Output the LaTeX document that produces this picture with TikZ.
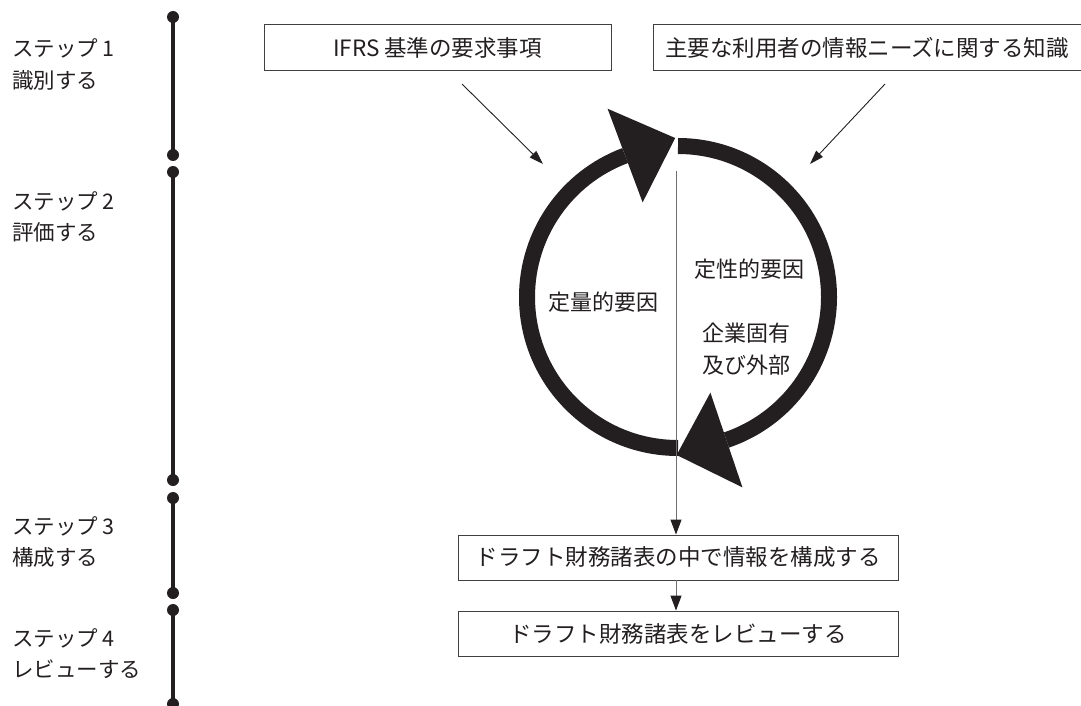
\documentclass[tikz,border=0pt]{standalone}
\usepackage{fontspec}
\newfontfamily\jp{Noto Sans CJK JP}
\usetikzlibrary{arrows.meta,calc}
\definecolor{ink}{HTML}{231F20}
\definecolor{thin}{HTML}{6E6E6E}
\tikzset{
  x=1pt, y=1pt,
  steplabel/.style={anchor=west, inner sep=0pt, font=\jp\fontsize{21.5}{24}\selectfont, text=ink},
  bar/.style={line width=3.5pt, draw=ink},
  dot/.style={circle, fill=ink, inner sep=0pt, minimum size=12pt},
  boxnode/.style={draw=black!75, line width=0.9pt, inner sep=0pt, minimum height=46pt, font=\jp\fontsize{22.5}{26}\selectfont, text=ink},
  ringlabel/.style={inner sep=0pt, font=\jp\fontsize{22}{26}\selectfont, text=ink},
  ring/.style={line width=16pt, draw=ink},
  feed/.style={line width=0.9pt, draw=ink, -{Triangle[length=14pt,width=9pt]}},
  flow/.style={line width=1pt, draw=thin, -{Triangle[length=15pt,width=11pt,color=ink]}}
}
\begin{document}
\begin{tikzpicture}
\useasboundingbox (0,0) rectangle (1081,-706);

% timeline
\node[dot] (d1a) at (173,-17) {};
\node[dot] (d1b) at (173,-155) {};
\node[dot] (d2a) at (173,-172) {};
\node[dot] (d2b) at (173,-480) {};
\node[dot] (d3a) at (173,-498) {};
\node[dot] (d3b) at (173,-593) {};
\node[dot] (d4a) at (173,-610) {};
\node[dot] (d4b) at (173,-704) {};
\draw[bar] (d1a.center) -- (d1b.center);
\draw[bar] (d2a.center) -- (d2b.center);
\draw[bar] (d3a.center) -- (d3b.center);
\draw[bar] (d4a.center) -- (d4b.center);

\node[steplabel] (s1a) at (12,-48) {ステップ 1};
\node[steplabel] (s1b) at (12,-80) {識別する};
\node[steplabel] (s2a) at (12,-201) {ステップ 2};
\node[steplabel] (s2b) at (12,-232) {評価する};
\node[steplabel] (s3a) at (12,-526) {ステップ 3};
\node[steplabel] (s3b) at (12,-557) {構成する};
\node[steplabel] (s4a) at (12,-638) {ステップ 4};
\node[steplabel] (s4b) at (12,-669) {レビューする};

% top boxes
\node[boxnode, minimum width=347pt] (ifrs) at (437.5,-47.5) {IFRS 基準の要求事項};
\node[boxnode, minimum width=428pt] (users) at (867,-47.5) {主要な利用者の情報ニーズに関する知識};

% ring
\coordinate (C) at (678,-297);
\draw[ring] (C) ++(270:151) arc[start angle=270, end angle=110.5, radius=151];
\draw[ring] (C) ++(90:151) arc[start angle=90, end angle=-71.3, radius=151];
\fill[ink] ($(C)+(110.5:101)$) -- ($(C)+(110.5:201)$) -- ($(C)+(91:159)$) -- cycle;
\fill[ink] ($(C)+(288.7:101)$) -- ($(C)+(288.7:201)$) -- ($(C)+(269.5:158)$) -- cycle;

\node[ringlabel] (quant) at (603,-302) {定量的要因};
\node[ringlabel] (qual) at (749,-269) {定性的要因};
\node[ringlabel] (ent1) at (746,-333) {企業固有};
\node[ringlabel] (ent2) at (746,-365) {及び外部};

% feeds into ring
\coordinate (f1) at (543,-164);
\coordinate (f2) at (810,-164);
\draw[feed] (462,-84) -- (f1);
\draw[feed] (885,-84) -- (f2);

% lower boxes
\node[boxnode, minimum width=440pt, minimum height=45pt] (struct) at (678,-557.5) {ドラフト財務諸表の中で情報を構成する};
\node[boxnode, minimum width=440pt, minimum height=45pt] (review) at (678,-633.5) {ドラフト財務諸表をレビューする};

\coordinate (vtop) at (676,-171);
\draw[flow] (vtop) -- (vtop |- struct.north);
\draw[flow] (struct.south -| vtop) -- (review.north -| vtop);
\end{tikzpicture}
\end{document}
